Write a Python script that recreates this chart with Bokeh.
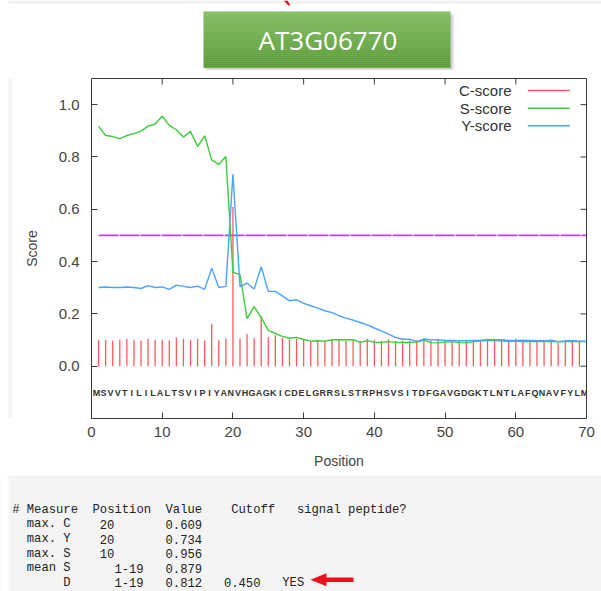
import numpy as np
from bokeh.plotting import figure
from bokeh.models import Range1d, LinearAxis, FixedTicker, NumeralTickFormatter
from bokeh.layouts import column, row
from bokeh.embed import file_html
from bokeh.resources import INLINE
from bokeh.core.properties import value

# ---------------- data ----------------
title_text = "AT3G06770"
sequence = "MSVVTILILALTSVIPIYANVHGAGKICDELGRRSLSTRPHSVSITDFGAVGDGKTLNTLAFQNAVFYLM"

c_score = [0.101, 0.100, 0.098, 0.101, 0.105, 0.101, 0.098, 0.105, 0.101, 0.101,
           0.098, 0.110, 0.105, 0.101, 0.105, 0.098, 0.161, 0.101, 0.106, 0.609,
           0.105, 0.123, 0.107, 0.192, 0.111, 0.118, 0.108, 0.101, 0.106, 0.103,
           0.097, 0.101, 0.097, 0.103, 0.101, 0.097, 0.101, 0.097, 0.105, 0.101,
           0.097, 0.103, 0.097, 0.097, 0.097, 0.099, 0.105, 0.097, 0.105, 0.097,
           0.100, 0.097, 0.097, 0.100, 0.100, 0.105, 0.105, 0.100, 0.097, 0.105,
           0.100, 0.097, 0.097, 0.097, 0.100, 0.091, 0.100, 0.097, 0.097]

s_score = [0.917, 0.882, 0.878, 0.870, 0.882, 0.889, 0.899, 0.918, 0.926, 0.956,
           0.921, 0.904, 0.876, 0.898, 0.840, 0.881, 0.789, 0.771, 0.802, 0.359,
           0.350, 0.182, 0.228, 0.186, 0.137, 0.125, 0.114, 0.107, 0.110, 0.102,
           0.096, 0.097, 0.096, 0.101, 0.101, 0.101, 0.101, 0.091, 0.098, 0.091,
           0.091, 0.094, 0.091, 0.091, 0.091, 0.092, 0.100, 0.090, 0.089, 0.092,
           0.094, 0.090, 0.089, 0.094, 0.096, 0.098, 0.098, 0.096, 0.094, 0.096,
           0.094, 0.094, 0.094, 0.094, 0.095, 0.093, 0.094, 0.094, 0.094, 0.094]

y_score = [0.301, 0.303, 0.301, 0.301, 0.303, 0.301, 0.297, 0.308, 0.301, 0.303,
           0.294, 0.310, 0.305, 0.301, 0.306, 0.294, 0.375, 0.301, 0.305, 0.734,
           0.304, 0.318, 0.295, 0.380, 0.286, 0.286, 0.269, 0.250, 0.254, 0.240,
           0.231, 0.222, 0.212, 0.205, 0.193, 0.184, 0.176, 0.167, 0.158, 0.146,
           0.135, 0.123, 0.110, 0.103, 0.103, 0.094, 0.103, 0.101, 0.100, 0.098,
           0.098, 0.097, 0.097, 0.098, 0.099, 0.101, 0.101, 0.101, 0.098, 0.098,
           0.099, 0.098, 0.097, 0.097, 0.099, 0.094, 0.097, 0.097, 0.096, 0.096]

cutoff_line = 0.5
x_ticks = [0, 10, 20, 30, 40, 50, 60, 70]
y_ticks = [0.0, 0.2, 0.4, 0.6, 0.8, 1.0]
legend_names = ["C-score", "S-score", "Y-score"]

header_words = ["#", "Measure", "Position", "Value", "Cutoff", "signal peptide?"]
measure_kind = ["max.", "max.", "max.", "mean", ""]
measure_score = ["C", "Y", "S", "S", "D"]
measure_pos = ["20", "20", "10", "1-19", "1-19"]
measure_value = ["0.609", "0.734", "0.956", "0.879", "0.812"]
d_cutoff = "0.450"
d_answer = "YES"

# ---------------- styles ----------------
RED = "#ff5a5a"
GREEN = "#3dcc3d"
BLUE = "#4aa3ff"
PURPLE = "#c43cff"
AXC = "#3a3a3a"
SANS = "Liberation Sans"
PANEL = "#f4f4f4"

W = 601
HA, HB, HC = 70, 405, 116

# ---------------- title figure ----------------
fa = figure(width=W, height=HA, x_range=Range1d(0, W), y_range=Range1d(HA, 0),
            toolbar_location=None, output_backend="svg", min_border=0,
            x_axis_location=None, y_axis_location=None, outline_line_color=None,
            background_fill_color="white", border_fill_color="white")
fa.grid.visible = False
fa.quad(left=8, right=W, top=0, bottom=3, fill_color="#f2f2f2", line_color=None)
fa.patch(x=[283, 287, 290, 288], y=[0, 0, 5, 5], fill_color="#e8141b", line_color=None)
bx0, bx1, by0, by1 = 203, 450, 11, 67
for k, a in enumerate([0.05, 0.06, 0.08]):
    off = 4 - k
    fa.quad(left=bx0 + off - 1, right=bx1 + off, top=by0 + off, bottom=by1 + off,
            fill_color="black", fill_alpha=a, line_color=None)
n = 28
c0 = np.array([0x80, 0xbd, 0x60])
c1 = np.array([0x5b, 0x9c, 0x36])
hs = (by1 - by0) / n
for i in range(n):
    t = i / (n - 1)
    c = (c0 * (1 - t) + c1 * t).astype(int)
    fa.quad(left=bx0, right=bx1, top=by0 + i * hs, bottom=by0 + (i + 1) * hs + 0.3,
            fill_color="#%02x%02x%02x" % tuple(c), line_color=None)
fa.text(x=[(bx0 + bx1) / 2 + 1], y=[(by0 + by1) / 2], text=[title_text],
        text_color="white", text_font=value("Open Sans"), text_font_size="26px",
        text_align="center", text_baseline="middle")

# ---------------- chart figure ----------------
SW = 12
WB = W - SW
FL, FW, FT, FH = 79, 495, 8, 340
fb = figure(width=WB, height=HB, x_range=Range1d(0, 70), y_range=Range1d(-0.2, 1.1),
            toolbar_location=None, output_backend="svg",
            min_border_left=FL, min_border_right=WB - FL - FW, min_border_top=FT,
            min_border_bottom=HB - FT - FH,
            x_axis_location=None, y_axis_location=None,
            outline_line_color=AXC, outline_line_width=1,
            background_fill_color="white", border_fill_color="white")
fb.grid.visible = False


def style_axis(ax):
    ax.axis_line_color = None
    ax.major_tick_line_color = AXC
    ax.major_tick_in = 6
    ax.major_tick_out = 0
    ax.minor_tick_line_color = None
    ax.major_label_text_font = SANS
    ax.major_label_text_color = "#444444"
    ax.major_label_text_font_size = "15px"
    ax.axis_label_text_font = SANS
    ax.axis_label_text_color = "#444444"
    ax.axis_label_text_font_style = "normal"
    ax.axis_label_text_font_size = "14px"


left = LinearAxis(ticker=FixedTicker(ticks=y_ticks), formatter=NumeralTickFormatter(format="0.0"),
                  axis_label="Score")
style_axis(left)
left.major_label_standoff = 12
left.axis_label_standoff = 16
fb.add_layout(left, "left")

bottom = LinearAxis(ticker=FixedTicker(ticks=x_ticks), axis_label="Position")
style_axis(bottom)
bottom.major_label_standoff = 8
bottom.axis_label_standoff = 13
fb.add_layout(bottom, "below")

xs = FW / 70.0
ys = FH / 1.3
# mirrored inward ticks on the right and top frame edges
fb.segment(x0=[70 - 6 / xs] * len(y_ticks), y0=y_ticks, x1=[70] * len(y_ticks), y1=y_ticks,
           line_color=AXC, line_width=1)
fb.segment(x0=x_ticks, y0=[1.1 - 6 / ys] * len(x_ticks), x1=x_ticks, y1=[1.1] * len(x_ticks),
           line_color=AXC, line_width=1)

pos_s = np.arange(1, len(s_score) + 1)
pos_c = np.arange(1, len(c_score) + 1)

fb.line(x=[pos_s[0], pos_s[-1]], y=[cutoff_line, cutoff_line], line_color=PURPLE,
        line_width=1.7, line_dash="20 1")
fb.segment(x0=pos_c, y0=np.zeros(len(c_score)), x1=pos_c, y1=c_score,
           line_color=RED, line_width=1.3)
fb.line(x=pos_s, y=s_score, line_color=GREEN, line_width=1.4)
fb.line(x=pos_s, y=y_score, line_color=BLUE, line_width=1.4)

fb.text(x=pos_s - 0.3, y=np.full(len(sequence), -0.102), text=list(sequence),
        text_font=value(SANS), text_font_size="9px", text_font_style="bold",
        text_color="#333333", text_align="center", text_baseline="middle")

# legend (right-aligned text, sample line to its right)
PAGE_FL = SW + FL
PAGE_FT = HA + FT


def px2x(px):
    return (px - PAGE_FL) / xs


def px2y(py):
    return 1.1 - (py - PAGE_FT) / ys


leg_y = [px2y(90), px2y(107.7), px2y(125.3)]
fb.text(x=[px2x(511)] * 3, y=leg_y, text=legend_names, text_font=value(SANS),
        text_font_size="15px", text_color="#333333", text_align="right",
        text_baseline="middle")
fb.segment(x0=[px2x(527.3)] * 3, y0=leg_y, x1=[px2x(569.3)] * 3, y1=leg_y,
           line_color=[RED, GREEN, BLUE], line_width=1.4)

strip = figure(width=SW, height=HB, x_range=Range1d(0, SW), y_range=Range1d(0, HB),
               toolbar_location=None, output_backend="svg",
               min_border=0, x_axis_location=None, y_axis_location=None,
               outline_line_color=None, background_fill_color="white",
               border_fill_color="white")
strip.grid.visible = False
strip.quad(left=8, right=SW, top=HB, bottom=0, fill_color=PANEL, line_color=None)

# ---------------- table figure ----------------
fc = figure(width=W, height=HC, x_range=Range1d(0, W), y_range=Range1d(HC, 0),
            toolbar_location=None, output_backend="svg", min_border=0,
            x_axis_location=None, y_axis_location=None, outline_line_color=None,
            background_fill_color=PANEL, border_fill_color=PANEL)
fc.grid.visible = False
fc.quad(left=0, right=8, top=0, bottom=HC, fill_color="white", line_color=None)

CW = 7.3
X0 = 11.7
row_y = [34.3 + 14.6 * i for i in range(6)]


def colx(c):
    return X0 + CW * c


mono = dict(text_font=value("Liberation Mono"), text_font_size="12.2px",
            text_color="#222222", text_align="left", text_baseline="middle")

hdr_cols = [0, 2, 11, 21, 30, 39]
fc.text(x=[colx(c) for c in hdr_cols], y=[row_y[0]] * len(header_words),
        text=header_words, **mono)
ry = row_y[1:]
fc.text(x=[colx(2)] * 5, y=ry, text=measure_kind, **mono)
fc.text(x=[colx(7)] * 5, y=ry, text=measure_score, **mono)
fc.text(x=[colx(12 if len(p) <= 2 else 14) for p in measure_pos], y=ry, text=measure_pos, **mono)
fc.text(x=[colx(21)] * 5, y=ry, text=measure_value, **mono)
fc.text(x=[colx(29), colx(37)], y=[ry[-1], ry[-1]], text=[d_cutoff, d_answer], **mono)

ay = ry[-1] - 3
tip = 310
fc.patch(x=[tip, tip + 16, tip + 16, tip + 43, tip + 43, tip + 16, tip + 16],
         y=[ay, ay - 6.5, ay - 2.3, ay - 2.3, ay + 2.3, ay + 2.3, ay + 6.5],
         fill_color="#e8141b", line_color=None)

layout = column(fa, row(strip, fb, spacing=0), fc, spacing=0)
open("out.html", "w").write(file_html(layout, INLINE))
